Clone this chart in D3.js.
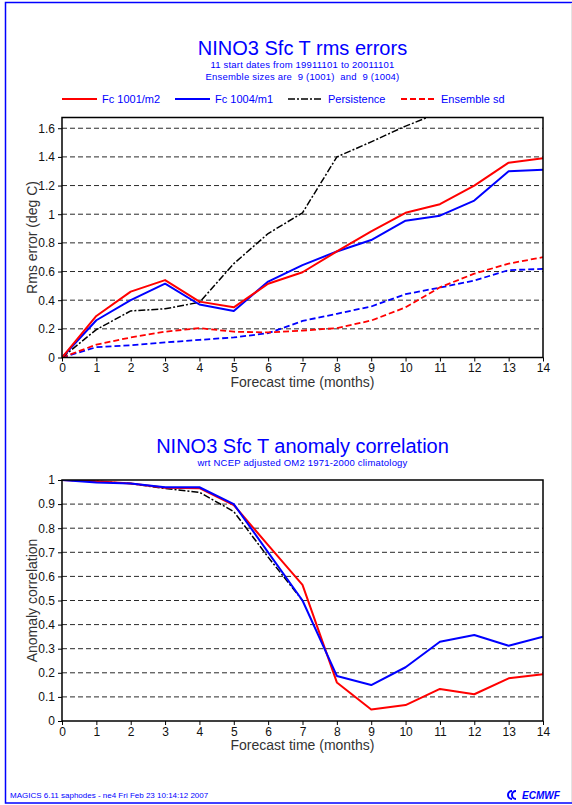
<!DOCTYPE html>
<html><head><meta charset="utf-8">
<script src="https://cdn.jsdelivr.net/npm/d3@7"></script>
<style>
body{margin:0;background:#fff}
svg{display:block}
text{font-family:"Liberation Sans",Arial,Helvetica,sans-serif}
</style>
</head><body>
<svg id="c" width="572" height="805"></svg>
<script>
// ---------- data ----------
const months = [0,1,2,3,4,5,6,7,8,9,10,11,12,13,14];
const xTicks = [0,1,2,3,4,5,6,7,8,9,10,11,12,13,14];

// Panel 1: rms errors (deg C)
const rmsFc1001      = [0,0.29,0.46,0.54,0.39,0.35,0.515,0.595,0.74,0.88,1.01,1.07,1.2,1.36,1.39];
const rmsFc1004      = [0,0.26,0.40,0.515,0.37,0.325,0.53,0.645,0.74,0.82,0.955,0.99,1.095,1.30,1.31];
const rmsPersistence = [0,0.195,0.325,0.34,0.385,0.655,0.865,1.01,1.40,1.505,1.615,1.71];
const sdFc1001       = [0,0.09,0.14,0.18,0.205,0.18,0.175,0.188,0.205,0.258,0.35,0.49,0.585,0.655,0.70];
const sdFc1004       = [0,0.072,0.085,0.105,0.123,0.14,0.17,0.255,0.305,0.356,0.442,0.488,0.537,0.61,0.618];
const rmsYTicks  = [0,0.2,0.4,0.6,0.8,1,1.2,1.4,1.6];
const rmsYLabels = ["0","0.2","0.4","0.6","0.8","1","1.2","1.4","1.6"];

// Panel 2: anomaly correlation
const acFc1001      = [1,0.995,0.985,0.968,0.966,0.896,0.73,0.565,0.16,0.048,0.066,0.133,0.111,0.177,0.194];
const acFc1004      = [1,0.99,0.985,0.97,0.97,0.90,0.70,0.50,0.187,0.149,0.223,0.329,0.357,0.312,0.35];
const acPersistence = [1,0.995,0.985,0.965,0.949,0.869,0.68,0.50];
const acYTicks  = [0,0.1,0.2,0.3,0.4,0.5,0.6,0.7,0.8,0.9,1];
const acYLabels = ["0","0.1","0.2","0.3","0.4","0.5","0.6","0.7","0.8","0.9","1"];

const legendLabels = ["Fc 1001/m2","Fc 1004/m1","Persistence","Ensemble sd"];

// ---------- styles ----------
const RED = "#ff0000", BLUE = "#0000ff", BLACK = "#000000";
const sty = {
  fc1001:  {stroke:RED,   width:2,   dash:null},
  fc1004:  {stroke:BLUE,  width:2,   dash:null},
  persist: {stroke:BLACK, width:1.5, dash:"7,2,2,2"},
  sd1001:  {stroke:RED,   width:1.8, dash:"6,3"},
  sd1004:  {stroke:BLUE,  width:1.8, dash:"6,3"}
};

const svg = d3.select("#c");

// page frame
svg.append("rect").attr("x",5.5).attr("y",2.5).attr("width",575).attr("height",800.5)
  .attr("fill","none").attr("stroke",BLUE).attr("stroke-width",1.5);
svg.append("line").attr("x1",571.5).attr("x2",571.5).attr("y1",3).attr("y2",802)
  .attr("stroke","#e4e4e4");

const X0 = 62, X1 = 543;

function panel(cfg){
  const x = d3.scaleLinear().domain([0,14]).range([X0,X1]);
  const y = d3.scaleLinear().domain([0,cfg.ymax]).range([cfg.bottom,cfg.top]);
  const g = svg.append("g");
  const id = "clip"+cfg.name;
  svg.append("clipPath").attr("id",id).append("rect")
    .attr("x",X0).attr("y",cfg.top).attr("width",X1-X0).attr("height",cfg.bottom-cfg.top);

  // grid
  g.append("g").selectAll("line").data(cfg.yTicks.filter(v=>v>0 && v<cfg.ymax-1e-6)).join("line")
    .attr("x1",X0).attr("x2",X1).attr("y1",d=>y(d)).attr("y2",d=>y(d))
    .attr("stroke","#2a2a2a").attr("stroke-width",1).attr("stroke-dasharray","5,3");

  // axes
  const ya = d3.axisLeft(y).tickValues(cfg.yTicks)
    .tickFormat((d,i)=>cfg.yLabels[i]).tickSize(4).tickPadding(3);
  const yg = g.append("g").attr("transform",`translate(${X0},0)`).call(ya);
  const xa = d3.axisBottom(x).tickValues(xTicks).tickFormat(d=>String(d)).tickSize(4).tickPadding(2);
  const xg = g.append("g").attr("transform",`translate(0,${cfg.bottom})`).call(xa);
  [yg,xg].forEach(a=>{
    a.select(".domain").remove();
    a.selectAll("line").attr("stroke","#000");
    a.selectAll("text").attr("font-size",12).attr("fill","#111")
      .attr("font-family",'"Liberation Sans",Arial,sans-serif');
  });

  // lines
  const line = d3.line().x((d,i)=>x(months[i])).y(d=>y(d));
  const lg = g.append("g").attr("clip-path",`url(#${id})`);
  cfg.series.forEach(s=>{
    lg.append("path").datum(s.values).attr("d",line).attr("fill","none")
      .attr("stroke",s.style.stroke).attr("stroke-width",s.style.width)
      .attr("stroke-dasharray",s.style.dash).attr("stroke-linejoin","round");
  });

  // frame
  g.append("rect").attr("x",X0).attr("y",cfg.top).attr("width",X1-X0).attr("height",cfg.bottom-cfg.top)
    .attr("fill","none").attr("stroke","#000").attr("stroke-width",1.5);

  // axis titles
  g.append("text").attr("transform",`translate(37,${(cfg.top+cfg.bottom)/2}) rotate(-90)`)
    .attr("text-anchor","middle").attr("font-size",14).attr("fill","#333").text(cfg.yTitle);
  g.append("text").attr("x",(X0+X1)/2).attr("y",cfg.bottom+29).attr("text-anchor","middle")
    .attr("font-size",14).attr("fill","#333").text("Forecast time (months)");

  // titles
  g.append("text").attr("x",(X0+X1)/2).attr("y",cfg.titleY).attr("text-anchor","middle")
    .attr("font-size",20).attr("fill",BLUE).text(cfg.title);
  cfg.subtitles.forEach((t,i)=>{
    g.append("text").attr("x",(X0+X1)/2).attr("y",cfg.titleY+13+i*11.5).attr("text-anchor","middle")
      .attr("font-size",9.5).attr("letter-spacing",0.2).style("white-space","pre")
      .attr("fill",BLUE).text(t);
  });
}

panel({
  name:"rms", top:117.5, bottom:357.5, ymax:1.675,
  yTicks:rmsYTicks, yLabels:rmsYLabels, yTitle:"Rms error (deg C)",
  title:"NINO3 Sfc T rms errors", titleY:55,
  subtitles:["11 start dates from 19911101 to 20011101","Ensemble sizes are  9 (1001)  and  9 (1004)"],
  series:[
    {values:sdFc1004, style:sty.sd1004},
    {values:sdFc1001, style:sty.sd1001},
    {values:rmsPersistence, style:sty.persist},
    {values:rmsFc1004, style:sty.fc1004},
    {values:rmsFc1001, style:sty.fc1001}
  ]
});

panel({
  name:"ac", top:480, bottom:721, ymax:1,
  yTicks:acYTicks, yLabels:acYLabels, yTitle:"Anomaly correlation",
  title:"NINO3 Sfc T anomaly correlation", titleY:453,
  subtitles:["wrt NCEP adjusted OM2 1971-2000 climatology"],
  series:[
    {values:acPersistence, style:sty.persist},
    {values:acFc1001, style:sty.fc1001},
    {values:acFc1004, style:sty.fc1004}
  ]
});

// legend
const legStyles = [sty.fc1001, sty.fc1004, sty.persist, sty.sd1001];
const lg = svg.append("g");
legendLabels.forEach((t,i)=>{
  const x0 = 62 + i*113;
  lg.append("line").attr("x1",x0).attr("x2",x0+35).attr("y1",99).attr("y2",99)
    .attr("stroke",legStyles[i].stroke).attr("stroke-width",legStyles[i].width)
    .attr("stroke-dasharray",legStyles[i].dash);
  lg.append("text").attr("x",x0+40).attr("y",103).attr("font-size",11).attr("fill",BLUE).text(t);
});

// footer
svg.append("text").attr("x",10).attr("y",798).attr("font-size",8).attr("fill",BLUE)
  .text("MAGICS 6.11 saphodes - ne4 Fri Feb 23 10:14:12 2007");
const logo = svg.append("g").attr("fill",BLUE);
logo.append("text").attr("x",522).attr("y",799).attr("font-size",10).attr("font-weight","bold")
  .attr("font-style","italic").text("ECMWF");
logo.append("path").attr("d","M516,791 a4,4 0 1,0 0,8 M512,791 a4,4 0 1,0 0,8")
  .attr("fill","none").attr("stroke",BLUE).attr("stroke-width",2);
</script>
</body></html>
